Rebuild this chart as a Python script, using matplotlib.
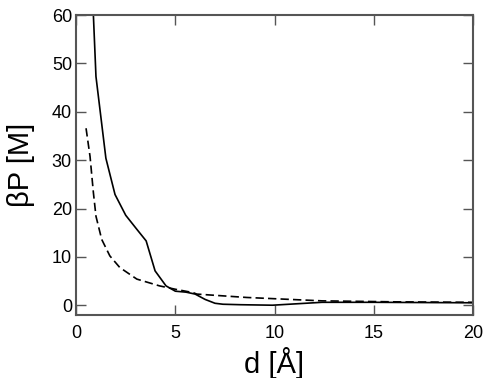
import matplotlib
matplotlib.use('Agg')
from matplotlib import pyplot as plt

plt.rcParams['font.family'] = ['Liberation Sans', 'DejaVu Sans']

# solid curve
d_solid = [0.87, 1.0, 1.5, 1.96, 2.5, 3.06, 3.53, 3.98, 4.53, 5.0, 5.54, 6.0,
           6.5, 7.0, 7.4, 8.3, 9.9, 12.4, 15.0, 20.0]
p_solid = [60.0, 47.3, 30.4, 22.9, 18.6, 15.7, 13.3, 7.1, 4.0, 2.9, 2.7, 2.3,
           1.2, 0.4, 0.2, 0.1, 0.0, 0.6, 0.6, 0.5]

# dashed curve
d_dash = [0.5, 0.7, 0.87, 1.0, 1.29, 1.7, 2.2, 3.06, 4.2, 5.0, 5.9, 6.08,
          8.6, 12.4, 16.0, 20.0]
p_dash = [36.6, 30.8, 23.3, 18.4, 13.6, 10.2, 7.8, 5.4, 4.0, 3.3, 2.6, 2.3,
          1.6, 0.9, 0.7, 0.6]

fig = plt.figure(figsize=(4.88, 3.78), dpi=100)
ax = fig.add_axes([0.156, 0.167, 0.813, 0.793])

ax.plot(d_solid, p_solid, color='black', lw=1.2)
ax.plot(d_dash, p_dash, color='black', lw=1.2, ls=(0, (5, 2.5)))

ax.set_xlim(0, 20)
ax.set_ylim(-2, 60)
ax.set_xticks([0, 5, 10, 15, 20])
ax.set_yticks([0, 10, 20, 30, 40, 50, 60])
ax.tick_params(direction='in', top=True, right=True, length=7, width=1,
               color='#555555', labelsize=13)
ax.tick_params(axis='x', pad=7)
ax.tick_params(axis='y', pad=3)
for s in ax.spines.values():
    s.set_color('#555555')
    s.set_linewidth(1.5)

ax.set_xlabel('d [Å]', fontsize=21, labelpad=4)
ax.set_ylabel('βP [M]', fontsize=21, labelpad=12)

plt.savefig('out.png', dpi=100)
